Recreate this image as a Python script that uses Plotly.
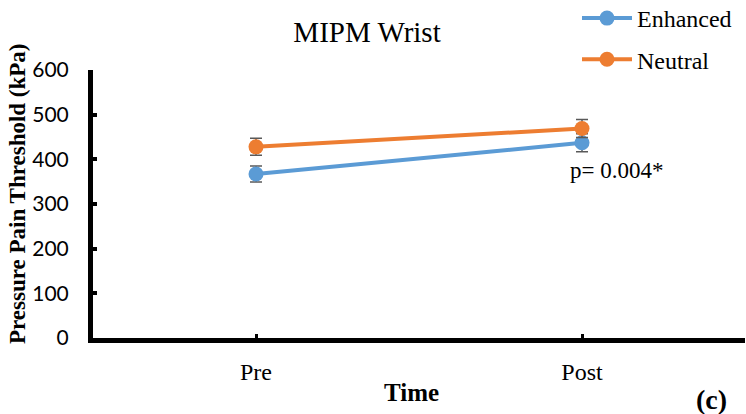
import plotly.graph_objects as go

categories = ["Pre", "Post"]
enhanced = [367, 437]
enhanced_err = [18, 20]
neutral = [428, 469]
neutral_err = [19, 20]
y_ticks = [0, 100, 200, 300, 400, 500, 600]

xpos = [0.5, 1.5]
serif = "Liberation Serif"
L, R, T, B = 93, 1, 70, 76
W, H = 746, 414
PW, PH = W - L - R, H - T - B


def px(x):
    return (x - L) / PW


def py(y):
    return (H - B - y) / PH


fig = go.Figure()
fig.add_trace(go.Scatter(
    x=xpos, y=enhanced, name="Enhanced", mode="lines+markers", legendgroup="e",
    line=dict(color="#5B9BD5", width=4), marker=dict(size=15, color="#5B9BD5"),
    error_y=dict(type="data", array=enhanced_err, color="#595959", thickness=1.5, width=6)))
fig.add_trace(go.Scatter(
    x=xpos, y=neutral, name="Neutral", mode="lines+markers", legendgroup="n",
    line=dict(color="#ED7D31", width=4), marker=dict(size=15, color="#ED7D31"),
    error_y=dict(type="data", array=neutral_err, color="#595959", thickness=1.5, width=6)))

fig.update_layout(
    width=W, height=H, margin=dict(l=L, r=R, t=T, b=B, autoexpand=False),
    paper_bgcolor="white", plot_bgcolor="white",
    title=dict(text="MIPM Wrist", x=0.492, xanchor="center", y=0.922, yanchor="middle",
               font=dict(family=serif, size=29, color="black")),
    legend=dict(x=px(577), y=py(-4), xanchor="left", yanchor="top", bgcolor="rgba(0,0,0,0)",
                font=dict(family=serif, size=24, color="black"), tracegroupgap=7,
                itemwidth=50),
    showlegend=True,
    xaxis=dict(range=[0, 2], tickmode="array", tickvals=xpos + [2], ticktext=categories + [""],
               showline=True, linecolor="black", linewidth=5, ticks="inside", ticklen=4,
               tickwidth=3, tickcolor="black", showgrid=False, zeroline=False,
               tickfont=dict(family=serif, size=24, color="black"), ticklabelstandoff=8),
    yaxis=dict(range=[0, 600], tickmode="array", tickvals=y_ticks,
               showline=True, linecolor="black", linewidth=5, ticks="inside", ticklen=4,
               tickwidth=4, tickcolor="black", showgrid=False, zeroline=False,
               tickfont=dict(family="Lato", size=21, color="black"), ticklabelstandoff=15),
)

fig.add_annotation(x=px(17), y=py(194), xref="paper", yref="paper",
                   text="<b>Pressure Pain Threshold (kPa)</b>", textangle=-90, showarrow=False,
                   xanchor="center", yanchor="middle",
                   font=dict(family=serif, size=23, color="black"))
fig.add_annotation(x=px(411), y=py(392), xref="paper", yref="paper",
                   text="<b>Time</b>", showarrow=False, xanchor="center", yanchor="middle",
                   font=dict(family=serif, size=25, color="black"))
fig.add_annotation(x=1.5, y=375, xref="x", yref="y", text="p= 0.004*", showarrow=False,
                   xanchor="center", font=dict(family=serif, size=23, color="black"), xshift=34)
fig.add_annotation(x=px(711), y=py(399), xref="paper", yref="paper",
                   text="<b>(c)</b>", showarrow=False, xanchor="center", yanchor="middle",
                   font=dict(family=serif, size=28, color="black"))

fig.write_html("out.html")
